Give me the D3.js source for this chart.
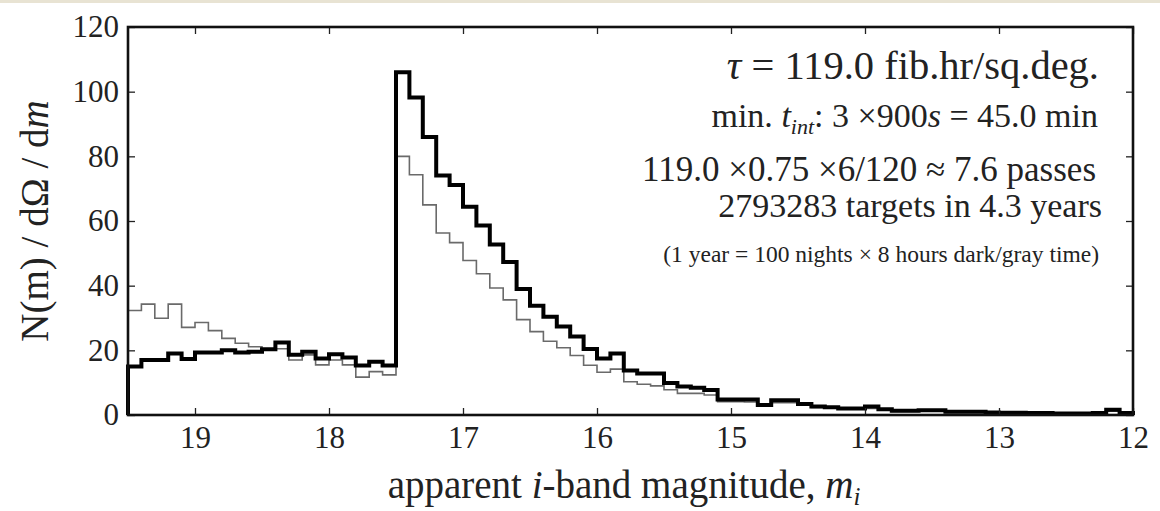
<!DOCTYPE html>
<html>
<head>
<meta charset="utf-8">
<script src="https://cdn.jsdelivr.net/npm/d3@7"></script>
<style>
  html, body { margin: 0; padding: 0; background: #fff; }
  svg { display: block; }
</style>
</head>
<body>
<svg id="chart" width="1160" height="511"></svg>
<script>
// bin edges (apparent i-band magnitude), 0.1 mag bins, faint -> bright
const binEdges = [
  19.5, 19.4, 19.3, 19.2, 19.1, 19.0, 18.9, 18.8, 18.7, 18.6,
  18.5, 18.4, 18.3, 18.2, 18.1, 18.0, 17.9, 17.8, 17.7, 17.6,
  17.5, 17.4, 17.3, 17.2, 17.1, 17.0, 16.9, 16.8, 16.7, 16.6,
  16.5, 16.4, 16.3, 16.2, 16.1, 16.0, 15.9, 15.8, 15.7, 15.6,
  15.5, 15.4, 15.3, 15.2, 15.1, 15.0, 14.9, 14.8, 14.7, 14.6,
  14.5, 14.4, 14.3, 14.2, 14.1, 14.0, 13.9, 13.8, 13.7, 13.6,
  13.5, 13.4, 13.3, 13.2, 13.1, 13.0, 12.9, 12.8, 12.7, 12.6,
  12.5, 12.4, 12.3, 12.2, 12.1, 12.0
];

// thick black histogram
const countsThick = [
  15, 17, 17, 19, 17.3, 19.3, 19.3, 20, 19.3, 19.6,
  20.3, 22.4, 18.6, 19.6, 17.5, 18.8, 17.8, 15.3, 16.5, 15.3,
  106, 98.2, 86, 74.1, 71.1, 64.4, 58.6, 52.7, 47.3, 39,
  33.8, 30.4, 27.4, 24.3, 20.4, 17.5, 19, 13.8, 12.8, 12.8,
  9.9, 8.8, 8.4, 7.7, 4.8, 4.8, 4.8, 3.1, 4.6, 4.6,
  3.4, 2.6, 2.4, 2.0, 2.0, 2.6, 1.8, 1.3, 1.3, 1.5,
  1.5, 1.0, 1.0, 1.0, 0.8, 0.7, 0.7, 0.6, 0.6, 0.5,
  0.5, 0.5, 0.6, 1.6, 0.6
];

// thin grey histogram
const countsThin = [
  32.3, 34.3, 29.9, 34.3, 27.1, 28.6, 26.1, 23.7, 22.2, 21.1,
  20.3, 20.5, 17, 18.6, 15.5, 17, 15.5, 11.7, 13.4, 12.4,
  80, 74.3, 65, 56.3, 53.3, 47.8, 43.7, 39.3, 35.6, 29.5,
  25.8, 22.8, 20.8, 18.4, 15.4, 13.2, 14.2, 10.3, 9.5, 9.0,
  7.8, 6.7, 6.7, 6.2, 4.1, 4.1, 4.0, 2.8, 3.8, 3.8,
  3.0, 2.3, 2.1, 1.8, 1.8, 2.0, 1.5, 1.1, 1.1, 1.2,
  1.2, 0.8, 0.8, 0.8, 0.6, 0.5, 0.5, 0.5, 0.4, 0.4,
  0.4, 0.4, 0.5, 1.2, 0.5
];

const xTicks = [19, 18, 17, 16, 15, 14, 13, 12];
const yTicks = [0, 20, 40, 60, 80, 100, 120];

const SERIF = "'Liberation Serif', 'Times New Roman', 'DejaVu Serif', serif";
const margin = { left: 128, right: 27, top: 27, bottom: 96 };
const W = 1160, H = 511;

const svg = d3.select("#chart").attr("font-family", SERIF);

// thin beige strip along the top edge of the scan
svg.append("rect").attr("x", 0).attr("y", 0).attr("width", W).attr("height", 3)
  .attr("fill", "#e8e3d3");

const x = d3.scaleLinear().domain([19.5, 12]).range([margin.left, W - margin.right]);
const y = d3.scaleLinear().domain([0, 120]).range([H - margin.bottom, margin.top]);

// step outline: up from baseline, along each bin top, back down at the end
function stepPoints(counts) {
  const pts = [[binEdges[0], 0]];
  counts.forEach((v, i) => {
    pts.push([binEdges[i], v]);
    pts.push([binEdges[i + 1], v]);
  });
  pts.push([binEdges[binEdges.length - 1], 0]);
  return pts;
}

const line = d3.line().x(d => x(d[0])).y(d => y(d[1]));

const plot = svg.append("g");
plot.append("path")
  .attr("d", line(stepPoints(countsThin)))
  .attr("fill", "none")
  .attr("stroke", "#6a6a6a")
  .attr("stroke-width", 1.6);

plot.append("path")
  .attr("d", line(stepPoints(countsThick)))
  .attr("fill", "none")
  .attr("stroke", "#000")
  .attr("stroke-width", 4);

// axes: ticks point inward on all four sides
const tickLen = 7;
const gx = svg.append("g")
  .attr("transform", `translate(0,${y(0)})`)
  .call(d3.axisBottom(x).tickValues(xTicks).tickSize(-tickLen).tickPadding(11).tickFormat(d3.format("d")));
const gxTop = svg.append("g")
  .attr("transform", `translate(0,${y(120)})`)
  .call(d3.axisTop(x).tickValues(xTicks).tickSize(-tickLen).tickFormat(""));
const gy = svg.append("g")
  .attr("transform", `translate(${x(19.5)},0)`)
  .call(d3.axisLeft(y).tickValues(yTicks).tickSize(-tickLen).tickPadding(9));
const gyRight = svg.append("g")
  .attr("transform", `translate(${x(12)},0)`)
  .call(d3.axisRight(y).tickValues(yTicks).tickSize(-tickLen).tickFormat(""));

[gx, gxTop, gy, gyRight].forEach(g => {
  g.attr("font-family", SERIF);
  g.select(".domain").remove();
  g.selectAll(".tick line").attr("stroke", "#222").attr("stroke-width", 1.3);
  g.selectAll(".tick text").attr("font-size", 31).attr("fill", "#222");
});

// frame
svg.append("rect")
  .attr("x", x(19.5)).attr("y", y(120))
  .attr("width", x(12) - x(19.5)).attr("height", y(0) - y(120))
  .attr("fill", "none").attr("stroke", "#111").attr("stroke-width", 2.6);

// axis titles
const xt = svg.append("text")
  .attr("x", 624).attr("y", 498)
  .attr("text-anchor", "middle").attr("font-size", 39).attr("fill", "#222");
xt.append("tspan").text("apparent ");
xt.append("tspan").attr("font-style", "italic").text("i");
xt.append("tspan").text("-band magnitude, ");
xt.append("tspan").attr("font-style", "italic").text("m");
xt.append("tspan").attr("font-style", "italic").attr("font-size", 25).attr("dy", 7).text("i");

const yt = svg.append("text")
  .attr("transform", `translate(48,${(y(0) + y(120)) / 2}) rotate(-90)`)
  .attr("text-anchor", "middle").attr("font-size", 39).attr("fill", "#222");
yt.append("tspan").text("N(m) / dΩ / d");
yt.append("tspan").attr("font-style", "italic").text("m");

// annotation block, right aligned
const ax = 1099;
const ann = svg.append("g").attr("fill", "#222").attr("text-anchor", "end");

const t1 = ann.append("text").attr("x", ax).attr("y", 79).attr("font-size", 40.5);
t1.append("tspan").attr("font-style", "italic").text("τ");
t1.append("tspan").text(" = 119.0 fib.hr/sq.deg.");

const t2 = ann.append("text").attr("x", ax - 1).attr("y", 127).attr("font-size", 34);
t2.append("tspan").text("min. ");
t2.append("tspan").attr("font-style", "italic").text("t");
t2.append("tspan").attr("font-style", "italic").attr("font-size", 22).attr("dy", 7).text("int");
t2.append("tspan").attr("dy", -7).text(": 3 ×900");
t2.append("tspan").attr("font-style", "italic").text("s");
t2.append("tspan").text(" = 45.0 min");

ann.append("text").attr("x", ax - 3).attr("y", 181).attr("font-size", 35)
  .text("119.0 ×0.75 ×6/120 ≈ 7.6 passes");
ann.append("text").attr("x", ax + 3).attr("y", 217).attr("font-size", 34)
  .text("2793283 targets in 4.3 years");
ann.append("text").attr("x", ax).attr("y", 262).attr("font-size", 23.5)
  .text("(1 year = 100 nights × 8 hours dark/gray time)");
</script>
</body>
</html>
